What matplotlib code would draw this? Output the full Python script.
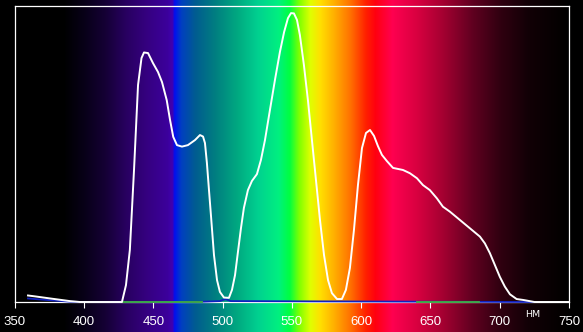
import numpy as np
import matplotlib
matplotlib.use("Agg")
import matplotlib.pyplot as plt
from matplotlib.colors import LinearSegmentedColormap, to_rgb

# ---- data ----
wavelength = [359.6, 364.6, 375.5, 389.9, 397.0, 427.4, 430.3, 433.1, 436.1, 439.0,
              441.5, 443.3, 446.2, 449.8, 453.4, 456.3, 459.7, 462.1, 464.4, 467.1,
              470.7, 475.0, 480.1, 483.7, 485.9, 487.3, 488.7, 490.2, 491.6, 493.8,
              496.0, 498.1, 501.0, 504.6, 506.8, 509.0, 511.1, 513.3, 515.4, 518.3,
              521.2, 524.8, 527.7, 530.6, 534.2, 537.8, 541.4, 544.4, 547.2, 549.4,
              551.5, 553.7, 555.8, 558.7, 561.6, 564.5, 567.4, 570.3, 573.2, 576.1,
              578.9, 582.6, 586.1, 589.0, 591.9, 594.8, 597.7, 600.6, 603.5, 606.4,
              609.3, 612.1, 615.0, 618.6, 623.0, 630.2, 635.2, 640.3, 644.6, 649.6,
              654.7, 659.0, 664.1, 671.3, 678.5, 685.7, 689.3, 692.9, 696.5, 700.1,
              703.7, 707.4, 712.2, 716.8, 720.4, 725.0, 750.0]
intensity = [2.2, 1.9, 1.2, 0.3, 0.0, 0.0, 5.7, 17.6, 44.6, 73.3,
             82.4, 84.3, 84.1, 80.7, 77.7, 74.3, 68.2, 61.5, 55.8, 53.0,
             52.5, 53.0, 54.7, 56.4, 55.9, 53.7, 47.0, 37.8, 29.4, 15.9,
             7.4, 3.4, 1.5, 1.4, 4.1, 9.1, 16.9, 25.0, 31.8, 37.8,
             40.9, 43.2, 48.0, 54.7, 64.9, 75.0, 84.5, 91.2, 95.9, 97.6,
             97.5, 95.3, 90.2, 80.1, 68.2, 54.7, 41.2, 27.7, 15.9, 7.4,
             3.0, 1.0, 1.0, 4.1, 11.5, 24.3, 39.5, 52.0, 57.1, 58.1,
             56.1, 52.7, 49.7, 47.6, 45.3, 44.6, 43.5, 41.8, 39.5, 37.8,
             35.0, 32.2, 30.5, 27.7, 24.9, 22.1, 19.8, 16.5, 12.5, 8.5,
             5.2, 2.6, 1.0, 0.7, 0.4, 0.0, 0.0]

blue_wl = [359.6, 364.6, 375.5, 389.9, 397.0, 480.0, 498.0, 502.0, 506.0, 725.0]
blue_val = [1.2, 1.0, 0.6, 0.1, 0.0, 0.0, 0.3, 1.0, 0.3, 0.0]
green_wl_1 = [427.4, 485.0]
green_val_1 = [0.0, 0.0]
green_wl_2 = [640.0, 685.0]
green_val_2 = [0.0, 0.0]

xticks = [350, 400, 450, 500, 550, 600, 650, 700, 750]
unit_label = "НМ"

# spectrum background colour stops
stop_wl = [350, 385, 400, 415, 430, 445, 460, 463.5, 465, 470, 480, 495, 510, 525,
           540, 548, 555, 563, 570, 580, 592, 603, 610, 622, 640, 660, 680, 700,
           720, 745, 750]
stop_col = ["#000000", "#000000", "#080018", "#150035", "#280060", "#350080",
            "#3c009c", "#4000b0", "#0010f0", "#0040c0", "#005c90", "#008080",
            "#00a880", "#00d090", "#00f080", "#00ff40", "#80ff00", "#e0ff00",
            "#ffe000", "#ffb000", "#ff7000", "#ff2000", "#ff0010", "#ff0050",
            "#d80040", "#a00030", "#600020", "#300010", "#120006", "#030000",
            "#000000"]

# ---- figure ----
fig = plt.figure(figsize=(5.83, 3.32), dpi=100, facecolor="black")
ax = fig.add_axes([14.7 / 583, 30 / 332, (569 - 14.7) / 583, 296 / 332])
ax.set_facecolor("black")

lo, hi = stop_wl[0], stop_wl[-1]
cmap = LinearSegmentedColormap.from_list(
    "spec", [((w - lo) / (hi - lo), to_rgb(c)) for w, c in zip(stop_wl, stop_col)], N=1024)
grad = np.linspace(0, 1, 1024)[None, :]
im = ax.imshow(grad, cmap=cmap, aspect="auto", extent=[lo, hi, -10.2, 102.1],
               interpolation="bilinear", zorder=0)
im.set_clip_on(False)

ax.plot(blue_wl, blue_val, color="#1020c0", lw=1.3, zorder=3, clip_on=False)
ax.plot(green_wl_1, green_val_1, color="#40b040", lw=1.3, zorder=3, clip_on=False)
ax.plot(green_wl_2, green_val_2, color="#40b040", lw=1.3, zorder=3, clip_on=False)
ax.plot(wavelength, intensity, color="white", lw=1.4, zorder=4, clip_on=False)

ax.set_xlim(350, 750)
ax.set_ylim(0, 100)
ax.set_xticks(xticks)
ax.set_xticklabels([str(t) for t in xticks], fontfamily="Liberation Sans", fontsize=9.5,
                   color="white")
ax.set_yticks([])
ax.tick_params(axis="x", direction="out", length=4, width=0.8, color="white", pad=6)
for s in ax.spines.values():
    s.set_color("white")
    s.set_linewidth(0.9)
    s.set_zorder(2)

ax.text(724, -4.2, unit_label, ha="center", va="center", color="white",
        fontsize=6.8, fontfamily="DejaVu Sans", clip_on=False)

fig.savefig("out.png", dpi=100, facecolor="black")
